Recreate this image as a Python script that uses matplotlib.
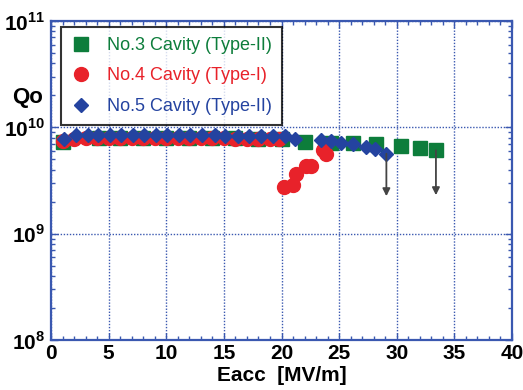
import matplotlib
matplotlib.use("Agg")
import matplotlib.pyplot as plt
from matplotlib.ticker import MultipleLocator, LogLocator, NullFormatter

plt.rcParams["font.family"] = "Liberation Sans"
plt.rcParams["mathtext.fontset"] = "custom"
plt.rcParams["mathtext.rm"] = "Liberation Sans:bold"
plt.rcParams["mathtext.bf"] = "Liberation Sans:bold"

# No.3 cavity (Type-II)
eacc3 = [1.0, 4.2, 6.0, 8.0, 10.0, 12.0, 14.0, 16.0, 18.0, 20.0, 22.0, 24.3, 26.2, 28.2, 30.4, 32.0, 33.4]
q3 = [7.3e9, 7.9e9, 8.0e9, 8.0e9, 8.0e9, 8.0e9, 7.9e9, 7.9e9, 7.8e9, 7.8e9, 7.3e9, 7.1e9, 7.2e9, 7.0e9, 6.7e9, 6.4e9, 6.1e9]

# No.4 cavity (Type-I)
eacc4 = [1.0, 2.0, 3.0, 4.0, 5.0, 6.0, 7.0, 8.0, 9.0, 10.0, 11.0, 12.0, 13.0, 14.0, 15.0, 16.0, 17.0, 18.0, 19.0, 19.8,
         20.2, 21.0, 21.3, 22.1, 22.6, 23.9, 23.6]
q4 = [7.5e9, 7.8e9, 7.9e9, 7.9e9, 7.9e9, 7.9e9, 7.9e9, 7.9e9, 7.9e9, 7.9e9, 7.9e9, 7.9e9, 7.9e9, 7.9e9, 7.9e9, 7.8e9, 7.8e9, 7.8e9, 7.8e9, 7.8e9,
      2.74e9, 2.88e9, 3.66e9, 4.3e9, 4.3e9, 5.56e9, 6.07e9]

# No.5 cavity (Type-II)
eacc5 = [1.1, 2.2, 3.2, 4.1, 5.1, 6.1, 7.1, 8.1, 9.1, 10.1, 11.1, 12.1, 13.1, 14.2, 15.1, 16.2, 17.2, 18.2, 19.3, 20.3,
         21.2, 23.4, 24.3, 25.2, 26.2, 27.3, 28.1, 29.1]
q5 = [7.8e9, 8.4e9, 8.5e9, 8.4e9, 8.5e9, 8.5e9, 8.5e9, 8.4e9, 8.4e9, 8.4e9, 8.4e9, 8.4e9, 8.4e9, 8.4e9, 8.3e9, 8.3e9, 8.3e9, 8.3e9, 8.3e9, 8.2e9,
      7.8e9, 7.65e9, 7.4e9, 7.1e9, 7.0e9, 6.5e9, 6.2e9, 5.65e9]

# quench arrows
arrow_x = [29.1, 33.4]
arrow_top = [5.65e9, 6.1e9]
arrow_bottom = [2.25e9, 2.3e9]

green = "#0d7d3b"
red = "#e8222a"
blue = "#2443a0"
frame = "#3a58b0"

fig = plt.figure(figsize=(5.23, 3.9), dpi=100)
ax = fig.add_axes([51 / 523, 1 - 340 / 390, 461 / 523, 319 / 390])

ax.plot(eacc3, q3, "s", color=green, ms=9.5, mec=green, label="No.3 Cavity (Type-II)", zorder=3)
ax.plot(eacc4, q4, "o", color=red, ms=10, mec=red, label="No.4 Cavity (Type-I)", zorder=4)
ax.plot(eacc5, q5, "D", color=blue, ms=7.5, mec=blue, label="No.5 Cavity (Type-II)", zorder=5)

for xa, yt, yb in zip(arrow_x, arrow_top, arrow_bottom):
    ax.annotate("", xy=(xa, yb), xytext=(xa, yt),
                arrowprops=dict(arrowstyle="-|>", color="#444444", lw=1.3,
                                mutation_scale=11, shrinkA=0, shrinkB=0), zorder=6)

ax.set_xlim(0, 40)
ax.set_yscale("log")
ax.set_ylim(1e8, 1e11)

ax.xaxis.set_major_locator(MultipleLocator(5))
ax.xaxis.set_minor_locator(MultipleLocator(1))
ax.yaxis.set_minor_locator(LogLocator(base=10, subs=range(2, 10)))
ax.yaxis.set_minor_formatter(NullFormatter())
ax.set_yticks([1e8, 1e9, 1e10, 1e11])
ax.set_yticklabels([r"$10^{8}$", r"$10^{9}$", r"$10^{10}$", r"$10^{11}$"])

ax.tick_params(which="both", direction="in", top=True, right=True, colors=frame,
               labelcolor="black", labelsize=15)
ax.tick_params(which="major", length=5, width=1)
ax.tick_params(which="minor", length=3, width=1)
ax.tick_params(axis="x", pad=3)
ax.tick_params(axis="y", pad=4)
for lab in ax.get_xticklabels():
    lab.set_fontweight("bold")

for sp in ax.spines.values():
    sp.set_color(frame)
    sp.set_linewidth(1.6)

ax.grid(True, which="major", color=frame, linestyle=(0, (1, 1.2)), linewidth=1.0)

ax.set_xlabel("Eacc  [MV/m]", fontsize=15, fontweight="bold", labelpad=2)
fig.text(12 / 523, 1 - 97 / 390, "Qo", fontsize=16, fontweight="bold", va="center", ha="left")

leg = ax.legend(loc="upper left", bbox_to_anchor=(61 / 523, 1 - 27 / 390), bbox_transform=fig.transFigure,
                fontsize=13, frameon=True, fancybox=False, edgecolor="black", handlelength=1.1,
                handletextpad=0.9, labelspacing=0.75, borderpad=0.55, borderaxespad=0)
leg.get_frame().set_linewidth(1.5)
for txt, c in zip(leg.get_texts(), [green, red, blue]):
    txt.set_color(c)

fig.savefig("out.png", dpi=100)
